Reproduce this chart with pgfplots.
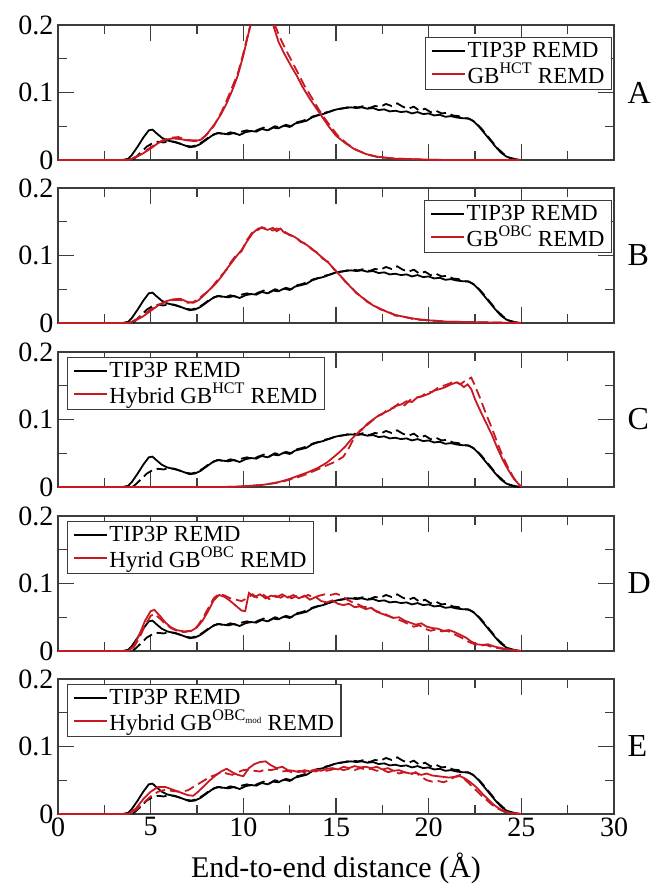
\documentclass[border=0pt]{standalone}
\usepackage{fontspec}
\setmainfont{Liberation Serif}
\usepackage{pgfplots}
\pgfplotsset{compat=1.18}
\usepackage{pgfplotstable}
\definecolor{gred}{RGB}{200,25,35}
\definecolor{frm}{RGB}{60,60,60}

% TIP3P REMD, run 1 (solid) and run 2 (dashed)
\pgfplotstableread{
x y
0 0
3.5 0
3.8 0.002
4.0 0.008
4.3 0.02
4.6 0.033
4.9 0.044
5.1 0.045
5.3 0.04
5.6 0.033
5.9 0.029
6.2 0.027
6.5 0.025
6.8 0.022
7.1 0.019
7.4 0.02
7.7 0.024
8.0 0.03
8.3 0.036
8.6 0.04
8.9 0.039
9.2 0.038
9.5 0.04
9.8 0.037
10.1 0.041
10.4 0.043
10.7 0.042
11.0 0.046
11.3 0.044
11.6 0.048
11.9 0.047
12.2 0.051
12.5 0.049
12.8 0.054
13.1 0.056
13.4 0.058
13.7 0.063
14.0 0.066
14.3 0.068
14.6 0.071
14.9 0.074
15.2 0.076
15.5 0.077
15.8 0.078
16.1 0.077
16.4 0.078
16.7 0.076
17.0 0.077
17.3 0.074
17.6 0.075
17.9 0.072
18.2 0.073
18.5 0.071
18.8 0.072
19.1 0.069
19.4 0.071
19.7 0.068
20.0 0.069
20.3 0.066
20.6 0.067
20.9 0.064
21.2 0.065
21.5 0.063
21.8 0.062
22.1 0.062
22.4 0.058
22.7 0.05
23.0 0.04
23.3 0.03
23.6 0.02
23.9 0.011
24.2 0.005
24.6 0.001
25 0
}\bs
\pgfplotstableread{
x y
0 0
4.0 0
4.2 0.004
4.5 0.012
4.8 0.02
5.1 0.025
5.4 0.027
5.7 0.026
6.0 0.028
6.3 0.027
6.6 0.024
6.9 0.021
7.2 0.02
7.5 0.022
7.8 0.027
8.1 0.033
8.4 0.038
8.7 0.04
9.0 0.038
9.3 0.041
9.6 0.039
9.9 0.042
10.2 0.044
10.5 0.041
10.8 0.045
11.1 0.048
11.4 0.045
11.7 0.05
12.0 0.048
12.3 0.052
12.6 0.05
12.9 0.056
13.2 0.058
13.5 0.061
13.8 0.065
14.1 0.067
14.4 0.07
14.7 0.072
15.0 0.075
15.3 0.076
15.6 0.078
15.9 0.079
16.2 0.078
16.5 0.08
16.8 0.077
17.1 0.08
17.4 0.079
17.7 0.083
18.0 0.08
18.3 0.084
18.6 0.079
18.9 0.076
19.2 0.079
19.5 0.073
19.8 0.076
20.1 0.071
20.4 0.073
20.7 0.069
21.0 0.07
21.3 0.066
21.6 0.065
21.9 0.062
22.2 0.061
22.5 0.056
22.8 0.048
23.1 0.038
23.4 0.028
23.7 0.018
24.0 0.01
24.3 0.004
24.7 0.001
25 0
}\bd

% A: GB HCT REMD
\pgfplotstableread{
x y
0 0
3.8 0
4.2 0.004
4.6 0.01
5.0 0.017
5.4 0.025
5.8 0.03
6.2 0.032
6.6 0.031
7.0 0.029
7.4 0.028
7.7 0.03
8.0 0.037
8.5 0.055
8.8 0.068
9.1 0.084
9.4 0.103
9.7 0.125
10.0 0.155
10.3 0.19
10.45 0.205
10.8 0.25
11.2 0.26
11.55 0.205
11.9 0.175
12.2 0.158
12.6 0.138
12.9 0.124
13.2 0.108
13.6 0.09
13.9 0.078
14.2 0.066
14.6 0.05
15.0 0.036
15.5 0.025
16.0 0.016
16.6 0.009
17.2 0.005
18.2 0.002
20 0.0005
21 0
25 0
}\raS
\pgfplotstableread{
x y
0 0
3.8 0
4.3 0.006
4.8 0.015
5.3 0.024
5.7 0.03
6.1 0.033
6.5 0.034
6.9 0.03
7.3 0.029
7.7 0.03
8.0 0.037
8.4 0.05
8.8 0.07
9.1 0.088
9.4 0.108
9.7 0.128
10.0 0.158
10.3 0.192
10.5 0.21
11.0 0.26
11.5 0.22
11.7 0.2
12.0 0.18
12.3 0.163
12.7 0.142
13.0 0.126
13.3 0.11
13.7 0.092
14.0 0.078
14.3 0.065
14.7 0.05
15.1 0.036
15.6 0.024
16.1 0.015
16.7 0.008
17.3 0.004
18.3 0.002
20 0.0005
21 0
25 0
}\raD

% B: GB OBC REMD
\pgfplotstableread{
x y
0 0
3.8 0
4.2 0.004
4.6 0.01
5.0 0.018
5.4 0.026
5.8 0.032
6.2 0.035
6.6 0.036
7.0 0.031
7.3 0.03
7.6 0.034
7.9 0.042
8.2 0.05
8.5 0.058
8.8 0.068
9.1 0.08
9.3 0.087
9.6 0.098
9.9 0.108
10.2 0.121
10.5 0.133
10.8 0.14
11.0 0.141
11.3 0.138
11.6 0.141
11.8 0.136
12.0 0.14
12.2 0.134
12.5 0.131
12.8 0.127
13.1 0.121
13.4 0.116
13.7 0.11
14.0 0.103
14.3 0.096
14.6 0.089
14.9 0.08
15.2 0.071
15.5 0.062
15.8 0.053
16.1 0.045
16.4 0.038
16.7 0.032
17.0 0.026
17.4 0.021
17.8 0.016
18.2 0.012
18.7 0.009
19.3 0.006
20.0 0.004
21.0 0.002
22.0 0.0015
23.0 0.001
24.0 0.0005
25 0
}\rbS
\pgfplotstableread{
x y
0 0
3.8 0
4.2 0.005
4.6 0.012
5.0 0.02
5.4 0.027
5.8 0.031
6.2 0.034
6.6 0.034
7.0 0.03
7.3 0.031
7.6 0.036
7.9 0.043
8.2 0.049
8.5 0.06
8.8 0.07
9.1 0.079
9.3 0.089
9.6 0.1
9.9 0.106
10.2 0.123
10.5 0.135
10.8 0.138
11.0 0.142
11.3 0.139
11.6 0.137
11.8 0.14
12.0 0.138
12.2 0.136
12.5 0.13
12.8 0.128
13.1 0.12
13.4 0.117
13.7 0.109
14.0 0.104
14.3 0.095
14.6 0.09
14.9 0.079
15.2 0.072
15.5 0.061
15.8 0.054
16.1 0.044
16.4 0.039
16.7 0.031
17.0 0.027
17.4 0.02
17.8 0.017
18.2 0.011
18.7 0.009
19.3 0.005
20.0 0.004
21.0 0.002
22.0 0.0015
23.0 0.001
24.0 0.0005
25 0
}\rbD

% C: Hybrid GB HCT REMD
\pgfplotstableread{
x y
0 0
9.0 0
10.0 0.001
11.0 0.003
11.5 0.005
12.0 0.008
12.5 0.012
13.0 0.017
13.5 0.022
14.0 0.028
14.5 0.036
14.9 0.045
15.2 0.052
15.5 0.06
15.8 0.07
16.1 0.078
16.4 0.085
16.7 0.094
17.0 0.1
17.3 0.106
17.6 0.11
17.9 0.114
18.2 0.12
18.5 0.122
18.8 0.127
19.1 0.126
19.4 0.133
19.7 0.135
20.0 0.138
20.3 0.143
20.6 0.145
20.9 0.148
21.2 0.152
21.5 0.155
21.7 0.153
21.9 0.148
22.1 0.152
22.3 0.145
22.5 0.13
22.8 0.112
23.1 0.095
23.4 0.078
23.7 0.058
24.0 0.04
24.3 0.025
24.6 0.012
24.9 0.003
25 0
}\rcS
\pgfplotstableread{
x y
0 0
9.0 0
10.0 0.001
11.0 0.003
12.0 0.007
12.5 0.011
13.0 0.015
13.5 0.02
14.0 0.026
14.5 0.032
15.0 0.038
15.4 0.045
15.7 0.058
16.0 0.074
16.3 0.084
16.6 0.09
16.9 0.097
17.2 0.104
17.5 0.108
17.8 0.115
18.1 0.117
18.4 0.124
18.7 0.121
19.0 0.129
19.3 0.132
19.6 0.134
19.9 0.14
20.2 0.141
20.5 0.147
20.8 0.15
21.1 0.153
21.4 0.157
21.7 0.152
22.0 0.158
22.3 0.162
22.5 0.15
22.8 0.13
23.1 0.108
23.4 0.088
23.7 0.066
24.0 0.045
24.3 0.028
24.6 0.013
24.9 0.003
25 0
}\rcD

% D: Hybrid GB OBC REMD
\pgfplotstableread{
x y
0 0
3.8 0
4.1 0.008
4.4 0.025
4.7 0.045
5.0 0.059
5.2 0.061
5.5 0.052
5.8 0.042
6.1 0.035
6.4 0.031
6.8 0.029
7.2 0.03
7.5 0.035
7.8 0.045
8.1 0.059
8.4 0.075
8.7 0.083
9.0 0.08
9.3 0.074
9.6 0.067
9.9 0.06
10.1 0.059
10.3 0.086
10.6 0.08
10.9 0.084
11.2 0.078
11.5 0.082
11.8 0.08
12.1 0.084
12.4 0.079
12.7 0.083
13.0 0.078
13.3 0.082
13.6 0.076
13.9 0.08
14.2 0.074
14.5 0.072
14.8 0.075
15.1 0.07
15.4 0.068
15.7 0.07
16.0 0.065
16.3 0.066
16.6 0.062
16.9 0.064
17.2 0.058
17.5 0.055
17.8 0.052
18.1 0.049
18.4 0.05
18.7 0.045
19.0 0.042
19.3 0.039
19.6 0.041
19.9 0.036
20.2 0.034
20.5 0.033
20.8 0.03
21.1 0.031
21.4 0.028
21.7 0.024
22.0 0.02
22.3 0.014
22.6 0.01
22.9 0.009
23.2 0.01
23.5 0.007
23.8 0.005
24.2 0.003
24.6 0.001
25 0
}\rdS
\pgfplotstableread{
x y
0 0
3.8 0
4.1 0.006
4.4 0.02
4.7 0.038
5.0 0.052
5.2 0.055
5.5 0.048
5.8 0.04
6.1 0.034
6.4 0.03
6.8 0.028
7.2 0.03
7.5 0.036
7.8 0.048
8.1 0.063
8.4 0.078
8.7 0.085
9.0 0.082
9.3 0.078
9.6 0.076
9.9 0.074
10.2 0.078
10.5 0.084
10.8 0.078
11.1 0.083
11.4 0.077
11.7 0.082
12.0 0.079
12.3 0.083
12.6 0.078
12.9 0.082
13.2 0.08
13.5 0.083
13.8 0.079
14.1 0.082
14.4 0.084
14.7 0.083
15.0 0.085
15.3 0.082
15.6 0.076
15.9 0.072
16.2 0.069
16.5 0.065
16.8 0.066
17.1 0.06
17.4 0.057
17.7 0.054
18.0 0.05
18.3 0.047
18.6 0.044
18.9 0.04
19.2 0.036
19.5 0.038
19.8 0.033
20.1 0.03
20.4 0.032
20.7 0.029
21.0 0.03
21.3 0.026
21.6 0.022
21.9 0.018
22.2 0.013
22.5 0.01
22.8 0.008
23.1 0.009
23.4 0.006
23.8 0.004
24.2 0.002
24.6 0.001
25 0
}\rdD

% E: Hybrid GB OBCmod REMD
\pgfplotstableread{
x y
0 0
3.8 0
4.2 0.008
4.6 0.022
5.0 0.033
5.4 0.04
5.8 0.04
6.2 0.036
6.6 0.032
7.0 0.028
7.3 0.027
7.6 0.034
7.9 0.042
8.2 0.05
8.5 0.057
8.8 0.063
9.1 0.067
9.4 0.062
9.7 0.058
10.0 0.056
10.3 0.068
10.6 0.074
10.9 0.077
11.2 0.078
11.5 0.072
11.8 0.068
12.1 0.07
12.4 0.065
12.7 0.064
13.0 0.062
13.3 0.065
13.6 0.063
13.9 0.066
14.2 0.064
14.5 0.067
14.8 0.068
15.1 0.066
15.4 0.07
15.7 0.068
16.0 0.071
16.3 0.069
16.6 0.07
16.9 0.068
17.2 0.07
17.5 0.066
17.8 0.068
18.1 0.064
18.4 0.065
18.7 0.062
19.0 0.06
19.3 0.061
19.6 0.058
19.9 0.06
20.2 0.057
20.5 0.056
20.8 0.055
21.1 0.054
21.4 0.055
21.7 0.056
22.0 0.052
22.3 0.046
22.6 0.039
22.9 0.03
23.2 0.022
23.5 0.014
23.8 0.008
24.1 0.004
24.5 0.001
25 0
}\reS
\pgfplotstableread{
x y
0 0
3.8 0
4.2 0.006
4.6 0.016
5.0 0.026
5.4 0.033
5.8 0.036
6.2 0.034
6.6 0.033
7.0 0.035
7.3 0.04
7.6 0.045
7.9 0.05
8.2 0.055
8.5 0.058
8.8 0.062
9.1 0.06
9.4 0.058
9.7 0.062
10.0 0.065
10.3 0.066
10.6 0.064
10.9 0.063
11.2 0.066
11.5 0.065
11.8 0.067
12.1 0.063
12.4 0.064
12.7 0.061
13.0 0.064
13.3 0.062
13.6 0.065
13.9 0.063
14.2 0.066
14.5 0.064
14.8 0.066
15.1 0.068
15.4 0.065
15.7 0.067
16.0 0.065
16.3 0.068
16.6 0.066
16.9 0.067
17.2 0.064
17.5 0.066
17.8 0.062
18.1 0.064
18.4 0.06
18.7 0.062
19.0 0.058
19.3 0.062
19.6 0.055
19.9 0.05
20.2 0.048
20.5 0.049
20.8 0.047
21.1 0.05
21.4 0.055
21.7 0.058
22.0 0.05
22.3 0.042
22.6 0.034
22.9 0.026
23.2 0.019
23.5 0.012
23.8 0.007
24.1 0.003
24.5 0.001
25 0
}\reD

\pgfplotsset{
  legend image code/.code={\draw[#1] (0pt,0pt) -- (33pt,0pt);},
}
\pgfplotsset{
  panel/.style={
    scale only axis, width=556pt, height=135pt,
    anchor=north west,
    xmin=0, xmax=30, ymin=0, ymax=0.2,
    xtick={0,5,...,30}, ytick={0,0.1,0.2}, yticklabels={0,0.1,0.2},
    minor x tick num=1, minor y tick num=1,
    tick align=inside, major tick length=16pt, minor tick length=9pt,
    axis line style={frm, line width=1.3pt},
    every tick/.style={frm, line width=1.3pt},
    /pgf/number format/assume math mode=true,
    tick label style={font=\fontsize{28}{28}\selectfont, text=black},
    yticklabel style={xshift=-1pt},
    xticklabel=\empty,
    legend style={draw=frm, line width=1.2pt, font=\fontsize{23}{27}\selectfont,
      inner xsep=5pt, inner ysep=3pt, cells={anchor=west}},
  },
  legR/.style={legend style={at={(1,1)}, anchor=north east, xshift=-2pt, yshift=-12pt}},
  legL/.style={legend style={at={(0,1)}, anchor=north west, xshift=9pt, yshift=-5pt}},
}
\newcommand\letterfont{\fontsize{32}{32}\selectfont}

\begin{document}
\begin{tikzpicture}
\useasboundingbox (0pt,0pt) rectangle (652pt,-886pt);

\begin{axis}[panel, legR, name=pA, at={(58pt,-25pt)}]
\addplot[black, line width=1.8pt] table {\bs}; \addlegendentry{TIP3P REMD}
\addplot[black, line width=1.8pt, dash pattern=on 10pt off 5pt, forget plot] table {\bd};
\addplot[gred, line width=1.8pt] table {\raS}; \addlegendentry{GB\textsuperscript{HCT} REMD}
\addplot[gred, line width=1.8pt, dash pattern=on 10pt off 5pt, forget plot] table {\raD};
\end{axis}
\node[anchor=west, font=\letterfont] at ([xshift=10pt]pA.east) {A};

\begin{axis}[panel, legR, name=pB, at={(58pt,-188pt)}]
\addplot[black, line width=1.8pt] table {\bs}; \addlegendentry{TIP3P REMD}
\addplot[black, line width=1.8pt, dash pattern=on 10pt off 5pt, forget plot] table {\bd};
\addplot[gred, line width=1.8pt] table {\rbS}; \addlegendentry{GB\textsuperscript{OBC} REMD}
\addplot[gred, line width=1.8pt, dash pattern=on 10pt off 5pt, forget plot] table {\rbD};
\end{axis}
\node[anchor=west, font=\letterfont] at ([xshift=10pt]pB.east) {B};

\begin{axis}[panel, legL, name=pC, at={(58pt,-352pt)}]
\addplot[black, line width=1.8pt] table {\bs}; \addlegendentry{TIP3P REMD}
\addplot[black, line width=1.8pt, dash pattern=on 10pt off 5pt, forget plot] table {\bd};
\addplot[gred, line width=1.8pt] table {\rcS}; \addlegendentry{Hybrid GB\textsuperscript{HCT} REMD}
\addplot[gred, line width=1.8pt, dash pattern=on 10pt off 5pt, forget plot] table {\rcD};
\end{axis}
\node[anchor=west, font=\letterfont] at ([xshift=10pt]pC.east) {C};

\begin{axis}[panel, legL, name=pD, at={(58pt,-516pt)}]
\addplot[black, line width=1.8pt] table {\bs}; \addlegendentry{TIP3P REMD}
\addplot[black, line width=1.8pt, dash pattern=on 10pt off 5pt, forget plot] table {\bd};
\addplot[gred, line width=1.8pt] table {\rdS}; \addlegendentry{Hyrid GB\textsuperscript{OBC} REMD}
\addplot[gred, line width=1.8pt, dash pattern=on 10pt off 5pt, forget plot] table {\rdD};
\end{axis}
\node[anchor=west, font=\letterfont] at ([xshift=10pt]pD.east) {D};

\begin{axis}[panel, legL, name=pE, at={(58pt,-679pt)},
  xticklabels={0,5,10,15,20,25,30},
  xlabel={End-to-end distance (Å)},
  xlabel style={font=\fontsize{30}{30}\selectfont, yshift=-10pt}]
\addplot[black, line width=1.8pt] table {\bs}; \addlegendentry{TIP3P REMD}
\addplot[black, line width=1.8pt, dash pattern=on 10pt off 5pt, forget plot] table {\bd};
\addplot[gred, line width=1.8pt] table {\reS}; \addlegendentry{Hybrid GB\textsuperscript{OBC\raisebox{-0.35ex}{\fontsize{9}{9}\selectfont mod}} REMD}
\addplot[gred, line width=1.8pt, dash pattern=on 10pt off 5pt, forget plot] table {\reD};
\end{axis}
\node[anchor=west, font=\letterfont] at ([xshift=10pt]pE.east) {E};
\end{tikzpicture}
\end{document}
